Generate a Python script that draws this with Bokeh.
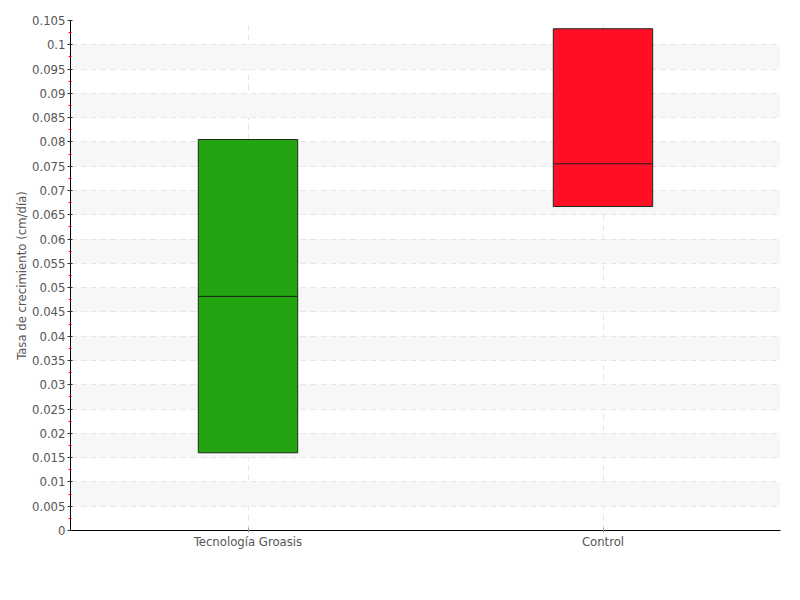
from bokeh.plotting import figure
from bokeh.models import FixedTicker, Range1d, FactorRange
from bokeh.transform import dodge
from bokeh.embed import file_html
from bokeh.resources import INLINE

categories = ["Tecnología Groasis", "Control"]
q1 = [0.016, 0.0667]
median = [0.0482, 0.0755]
q3 = [0.0805, 0.1033]
colors = ["#22a511", "#ff0f26"]
y_ticks = [round(i * 0.005, 3) for i in range(22)]
y_minor = [round(0.0025 + i * 0.005, 4) for i in range(21)]

FONT = "'DejaVu Sans Condensed', 'Roboto Condensed', Roboto, sans-serif"

p = figure(x_range=FactorRange(*categories, range_padding=0), y_range=Range1d(0, 0.105),
           width=800, height=600, output_backend="svg", toolbar_location=None,
           min_border_left=70, min_border_right=20, min_border_top=20, min_border_bottom=70)
p.outline_line_color = None

p.vbar(x=categories, bottom=q1, top=q3, width=0.28, fill_color=colors, line_color="#1e2a1a", line_width=1)
p.segment(x0=dodge("x", -0.14, range=p.x_range), x1=dodge("x", 0.14, range=p.x_range),
          y0="y", y1="y", line_color="#1e1e1e", line_width=1,
          source=dict(x=categories, y=median))

p.yaxis.ticker = FixedTicker(ticks=y_ticks, minor_ticks=y_minor)
p.yaxis.major_label_overrides = {t: ("%g" % t) for t in y_ticks}
p.yaxis.axis_label = "Tasa de crecimiento (cm/día)"
p.yaxis.axis_label_text_font = FONT
p.yaxis.axis_label_text_font_style = "normal"
p.yaxis.axis_label_text_font_size = "13px"
p.yaxis.axis_label_text_color = "#555555"
p.yaxis.axis_label_standoff = 0
p.yaxis.minor_tick_line_color = "#ff0000"
p.yaxis.minor_tick_line_width = 1
p.yaxis.minor_tick_out = 2
p.yaxis.minor_tick_in = 1
p.yaxis.major_tick_out = 3
p.yaxis.major_tick_in = 2
p.yaxis.major_tick_line_color = "#333333"

for ax in (p.xaxis[0], p.yaxis[0]):
    ax.major_label_text_font = FONT
    ax.major_label_text_font_size = "13px"
    ax.major_label_text_color = "#555555"
    ax.axis_line_color = "black"
    ax.major_label_standoff = 2

p.xaxis.major_tick_line_color = "#999999"
p.xaxis.major_tick_out = 2
p.xaxis.major_tick_in = 3
p.xaxis.major_label_standoff = 1

p.ygrid.ticker = FixedTicker(ticks=y_ticks)
p.ygrid.grid_line_color = "#e6e6e6"
p.ygrid.grid_line_dash = "6 4"
p.ygrid.band_fill_color = "#f7f7f7"
p.ygrid.band_fill_alpha = 1
p.xgrid.grid_line_color = "#e6e6e6"
p.xgrid.grid_line_dash = "6 4"

open("out.html", "w").write(file_html(p, INLINE))
